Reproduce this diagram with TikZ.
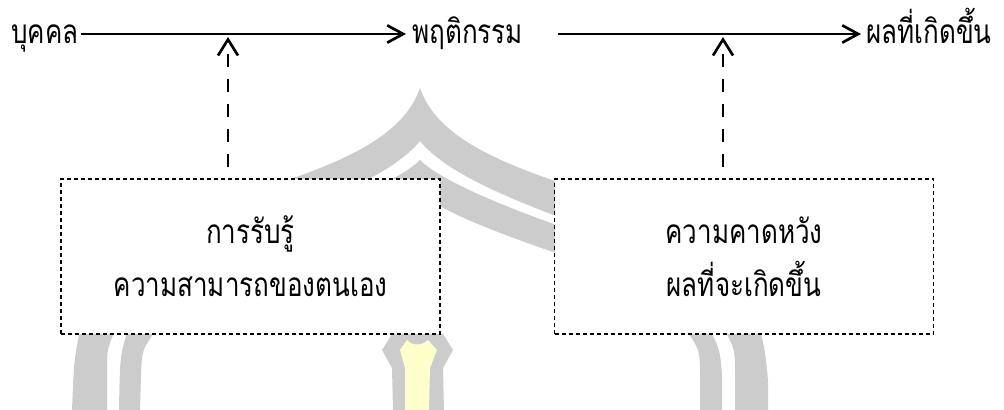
\documentclass[tikz,border=0pt]{standalone}
\usepackage{fontspec}
\newfontfamily\thaifont[Script=Thai,FakeStretch=0.78]{Loma}
\usetikzlibrary{arrows.meta,calc}
\definecolor{wmgrey}{HTML}{CCCCCC}
\definecolor{wmyellow}{HTML}{FFFFCC}
\begin{document}
\begin{tikzpicture}[x=0.75pt,y=-0.75pt,
  lbl/.style={font=\thaifont\fontsize{25}{30}\selectfont, inner sep=0pt},
  mainarrow/.style={line width=2pt, -{Straight Barb[length=12pt,width=13pt]}},
  dasharrow/.style={line width=2pt, dash pattern=on 9.75pt off 9pt, -{Straight Barb[length=12pt,width=15pt]}},
  framebox/.style={draw, fill=white, line width=0.8pt, dash pattern=on 3pt off 2.25pt,
    minimum width=284.25pt, minimum height=116.25pt, align=center, inner sep=0pt,
    font=\thaifont\fontsize{25}{40}\selectfont},
  wm/.style={fill=wmgrey, draw=none},
  wmy/.style={fill=wmyellow, draw=none}]
\useasboundingbox (0,0) rectangle (1004,410);
% watermark
\foreach \s in {1,-1}{
  \begin{scope}[shift={(420,0)}, xscale=\s]
    \fill[wmgrey] (0,88) .. controls (15,130) and (60,160) .. (180,195)
      -- (180,232) .. controls (60,190) and (20,165) .. (0,141) -- cycle;
    \fill[wmgrey] (0,160) .. controls (15,175) and (60,200) .. (180,240)
      -- (180,268) .. controls (60,228) and (20,210) .. (0,192) -- cycle;
  \end{scope}
}
\fill[wmgrey] (80,330) .. controls (74,360) .. (72,410) -- (107,410) -- (107,370) .. controls (107,350) .. (115,330) -- cycle;
\fill[wmgrey] (128,330) .. controls (120,355) .. (119,410) -- (140,410) -- (141,375) .. controls (142,350) .. (156,330) -- cycle;
\fill[wmgrey] (686,330) .. controls (700,350) .. (700,380) -- (700,410) -- (722,410) -- (722,375) .. controls (720,350) .. (710,330) -- cycle;
\fill[wmgrey] (725,330) .. controls (735,350) .. (735,375) -- (735,410) -- (768,410) -- (768,380) .. controls (765,350) .. (760,330) -- cycle;
\fill[wmgrey] (392,334) -- (382,350) -- (392,368) -- (393,410) -- (444,410) -- (443,368) -- (453,350) -- (443,334) -- cycle;
\fill[wmyellow] (407,340) .. controls (412,346) and (422,346) .. (428,340) -- (437,350) -- (430,368) -- (429,410) -- (405,410) -- (405,368) -- (400,350) -- cycle;
% top row
\node[lbl, anchor=base west] (n1) at (11,44) {บุคคล};
\node[lbl, anchor=base west] (n2) at (412,44) {พฤติกรรม};
\node[lbl, anchor=base west] (n3) at (866,44) {ผลที่เกิดขึ้น};
\coordinate (a2s) at (558,34);
\draw[mainarrow] ($(n1.base east)+(2,-10)$) -- ($(n2.base west)+(-6,-10)$);
\draw[mainarrow] (a2s) -- ($(n3.base west)+(-5,-10)$);
% boxes
\node[framebox] (b1) at (250.5,256.5) {การรับรู้\\ความสามารถของตนเอง};
\node[framebox] (b2) at (744,256.5) {ความคาดหวัง\\ผลที่จะเกิดขึ้น};
\coordinate (t1) at (228,37);
\coordinate (t2) at (723,37);
\draw[dasharrow] ($(b1.north)+(-22.5,-11)$) -- (t1);
\draw[dasharrow] ($(b2.north)+(-21,-11)$) -- (t2);
\end{tikzpicture}
\end{document}
